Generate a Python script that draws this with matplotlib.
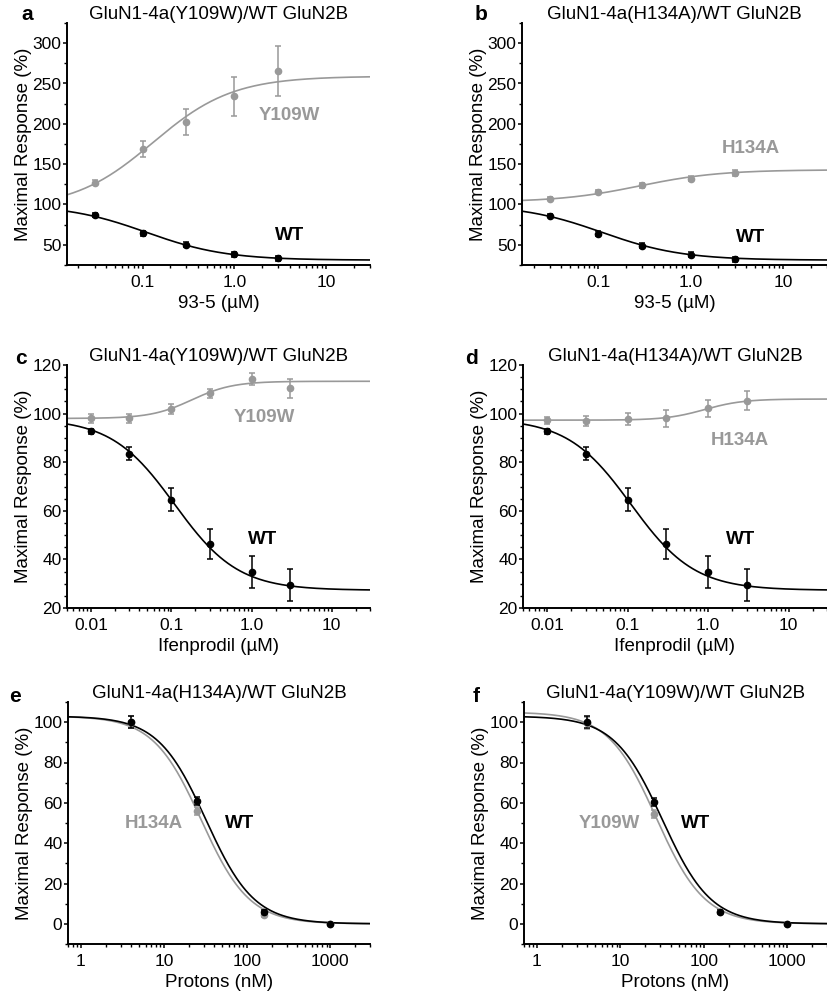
import numpy as np
import matplotlib
matplotlib.use("Agg")
import matplotlib.pyplot as plt
from matplotlib.ticker import FixedLocator, LogLocator, MultipleLocator, NullFormatter

plt.rcParams['font.family'] = ['Liberation Sans', 'DejaVu Sans']

GRAY = '#999999'

# ---- data ----
# panels a/b: 93-5 (uM)
conc_935 = [0.03, 0.1, 0.3, 1.0, 3.0]
a_mut = [127, 169, 202, 234, 265]
a_mut_err = [3, 10, 16, 24, 31]
a_wt = [87, 64.5, 50, 38.4, 33.5]
a_wt_err = [2, 3, 3, 3, 3]
b_mut = [107, 116, 123.6, 132, 139]
b_mut_err = [2, 2, 3, 3, 4]
b_wt = [86, 63.6, 49, 37.6, 32.2]
b_wt_err = [2, 3, 3, 3, 3]

# panels c/d: ifenprodil (uM)
conc_ifen = [0.01, 0.03, 0.1, 0.3, 1.0, 3.0]
c_mut = [98, 98, 102, 108.3, 114.4, 110.4]
c_mut_err = [2, 2, 2, 1.7, 2.5, 4]
ifen_wt = [92.8, 83.5, 64.6, 46.5, 34.7, 29.6]
ifen_wt_err = [1, 2.7, 4.6, 6.2, 6.5, 6.6]
d_mut = [97.2, 96.9, 97.9, 98, 102.3, 105.3]
d_mut_err = [1.5, 2, 2.5, 3.5, 3.5, 4]

# panels e/f: protons (nM)
protons = [3.98, 25.1, 158, 1000]
e_mut = [100, 55.8, 4.5, 0]
e_mut_err = [3, 2, 1, 0.5]
prot_wt = [100, 60.8, 6.1, 0]
prot_wt_err = [3, 2, 1, 0.5]
f_mut = [99.7, 54.6, 5.8, 0]
f_mut_err = [3, 2, 1, 0.5]
f_wt = [100, 60.4, 6.0, 0]

# fitted Hill curves: (bottom, top, ec50, hill)
fit_a_mut = (95, 259, 0.13, 1.0)
fit_935_wt = (31, 100, 0.11, -1.0)
fit_b_mut = (103, 143, 0.28, 1.0)
fit_c_mut = (98, 113.3, 0.18, 1.7)
fit_ifen_wt = (27.3, 98, 0.11, -1.1)
fit_d_mut = (97.3, 106, 0.9, 1.8)
fit_prot_wt = (0, 103, 32, -1.5)
fit_e_mut = (0, 103, 28, -1.5)
fit_f_mut = (0, 105, 27, -1.5)


def hill(x, p):
    bottom, top, ec50, h = p
    return bottom + (top - bottom) / (1 + (ec50 / x) ** h)


def draw_series(ax, x, y, err, fit, color, xlim):
    xs = np.logspace(np.log10(xlim[0]), np.log10(xlim[1]), 300)
    ax.plot(xs, hill(xs, fit), color=color, lw=1.2, zorder=2)
    ax.errorbar(x, y, yerr=err, fmt='o', color=color, ms=4.5, capsize=2.5,
                elinewidth=1.1, capthick=1.1, zorder=3)


def style(ax, xlim, ylim, xticks, xticklabels, ymajor, yminor, xlabel, title):
    ax.set_xscale('log')
    ax.set_xlim(xlim)
    ax.set_ylim(ylim)
    ax.xaxis.set_major_locator(FixedLocator(xticks))
    ax.set_xticklabels(xticklabels)
    ax.xaxis.set_minor_locator(LogLocator(base=10, subs=np.arange(2, 10)))
    ax.xaxis.set_minor_formatter(NullFormatter())
    ax.yaxis.set_major_locator(MultipleLocator(ymajor))
    ax.yaxis.set_minor_locator(MultipleLocator(yminor))
    for s in ['top', 'right']:
        ax.spines[s].set_visible(False)
    for s in ['left', 'bottom']:
        ax.spines[s].set_linewidth(1.4)
    ax.tick_params(which='major', direction='out', length=3, width=1.1, labelsize=12.5, pad=1)
    ax.tick_params(axis='x', which='major', pad=4)
    ax.tick_params(which='minor', direction='out', length=2, width=1.0)
    ax.set_xlabel(xlabel, fontsize=13.5, labelpad=4)
    ax.set_ylabel('Maximal Response (%)', fontsize=13.5, labelpad=0)
    ax.set_title(title, fontsize=13.5, pad=2)


fig = plt.figure(figsize=(8.28, 10.01), dpi=100)
W, H = 828, 1001


def add_ax(left, top, right, bottom):
    return fig.add_axes([left / W, 1 - bottom / H, (right - left) / W, (bottom - top) / H])


def letter(x, y, s):
    fig.text(x / W, 1 - y / H, s, fontsize=15, fontweight='bold', ha='center', va='center')


ax_a = add_ax(67, 23, 370, 265)
ax_b = add_ax(522, 23, 827, 265)
ax_c = add_ax(67, 365, 370, 608)
ax_d = add_ax(523, 365, 827, 608)
ax_e = add_ax(68, 702, 370, 944)
ax_f = add_ax(524, 702, 827, 944)

xl_935 = (0.015, 30)
xl_ifen = (0.005, 30)
xl_prot = (0.7, 3000)

lab = dict(fontsize=13.5, fontweight='bold', ha='center', va='center')

# a
draw_series(ax_a, conc_935, a_mut, a_mut_err, fit_a_mut, GRAY, xl_935)
draw_series(ax_a, conc_935, a_wt, a_wt_err, fit_935_wt, 'black', xl_935)
style(ax_a, xl_935, (25, 325), [0.1, 1, 10], ['0.1', '1.0', '10'], 50, 25,
      '93-5 (µM)', 'GluN1-4a(Y109W)/WT GluN2B')
ax_a.text(4, 210, 'Y109W', color=GRAY, **lab)
ax_a.text(4, 61, 'WT', color='black', **lab)
letter(27, 15, 'a')

# b
draw_series(ax_b, conc_935, b_mut, b_mut_err, fit_b_mut, GRAY, xl_935)
draw_series(ax_b, conc_935, b_wt, b_wt_err, fit_935_wt, 'black', xl_935)
style(ax_b, xl_935, (25, 325), [0.1, 1, 10], ['0.1', '1.0', '10'], 50, 25,
      '93-5 (µM)', 'GluN1-4a(H134A)/WT GluN2B')
ax_b.text(4.5, 170, 'H134A', color=GRAY, **lab)
ax_b.text(4.5, 59, 'WT', color='black', **lab)
letter(481, 15, 'b')

# c
draw_series(ax_c, conc_ifen, c_mut, c_mut_err, fit_c_mut, GRAY, xl_ifen)
draw_series(ax_c, conc_ifen, ifen_wt, ifen_wt_err, fit_ifen_wt, 'black', xl_ifen)
style(ax_c, xl_ifen, (20, 120), [0.01, 0.1, 1, 10], ['0.01', '0.1', '1.0', '10'], 20, 5,
      'Ifenprodil (µM)', 'GluN1-4a(Y109W)/WT GluN2B')
ax_c.text(1.46, 98.6, 'Y109W', color=GRAY, **lab)
ax_c.text(1.39, 48.2, 'WT', color='black', **lab)
letter(21, 359, 'c')

# d
draw_series(ax_d, conc_ifen, d_mut, d_mut_err, fit_d_mut, GRAY, xl_ifen)
draw_series(ax_d, conc_ifen, ifen_wt, ifen_wt_err, fit_ifen_wt, 'black', xl_ifen)
style(ax_d, xl_ifen, (20, 120), [0.01, 0.1, 1, 10], ['0.01', '0.1', '1.0', '10'], 20, 5,
      'Ifenprodil (µM)', 'GluN1-4a(H134A)/WT GluN2B')
ax_d.text(2.5, 89, 'H134A', color=GRAY, **lab)
ax_d.text(2.5, 48.2, 'WT', color='black', **lab)
letter(472, 359, 'd')

# e
draw_series(ax_e, protons, e_mut, e_mut_err, fit_e_mut, GRAY, xl_prot)
draw_series(ax_e, protons, prot_wt, prot_wt_err, fit_prot_wt, 'black', xl_prot)
style(ax_e, xl_prot, (-10, 110), [1, 10, 100, 1000], ['1', '10', '100', '1000'], 20, 10,
      'Protons (nM)', 'GluN1-4a(H134A)/WT GluN2B')
ax_e.text(7.6, 50, 'H134A', color=GRAY, **lab)
ax_e.text(81, 50, 'WT', color='black', **lab)
letter(15, 697, 'e')

# f
draw_series(ax_f, protons, f_mut, f_mut_err, fit_f_mut, GRAY, xl_prot)
draw_series(ax_f, protons, f_wt, prot_wt_err, fit_prot_wt, 'black', xl_prot)
style(ax_f, xl_prot, (-10, 110), [1, 10, 100, 1000], ['1', '10', '100', '1000'], 20, 10,
      'Protons (nM)', 'GluN1-4a(Y109W)/WT GluN2B')
ax_f.text(7.46, 50, 'Y109W', color=GRAY, **lab)
ax_f.text(80, 50, 'WT', color='black', **lab)
letter(476, 697, 'f')

fig.savefig('out.png', dpi=100)
